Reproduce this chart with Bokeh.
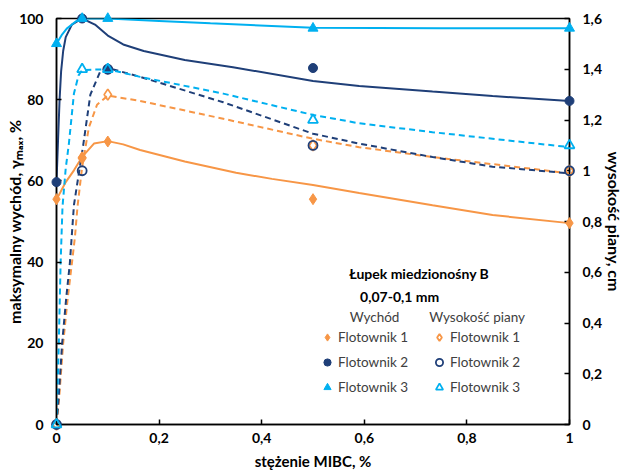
from bokeh.plotting import figure
from bokeh.models import (Range1d, LinearAxis, FixedTicker, CustomJSTickFormatter,
                          Label, Legend, LegendItem)
from bokeh.embed import file_html
from bokeh.resources import INLINE

# ---------------- data ----------------
conc = [0, 0.05, 0.1, 0.5, 1]
wych_f1 = [55.5, 65.8, 69.7, 55.5, 49.6]
wych_f2 = [59.7, 100, 87.5, 87.8, 79.7]
wych_f3 = [93.8, 100, 100, 97.6, 97.6]
piana_f1 = [0, 1.05, 1.3, 1.1, 1.0]
piana_f2 = [0, 1.0, 1.4, 1.1, 1.0]
piana_f3 = [0, 1.4, 1.4, 1.2, 1.1]

# trend curves
tr_w1_x = [0, 0.017, 0.034, 0.05, 0.073, 0.1, 0.13, 0.163, 0.25, 0.35, 0.42, 0.5, 0.59, 0.733, 0.85, 1]
tr_w1_y = [55.4, 59.5, 62.6, 65.9, 69.2, 69.8, 69.0, 67.6, 64.8, 62.0, 60.5, 59.0, 57.0, 54.0, 51.6, 49.6]
tr_w2_x = [0, 0.003, 0.006, 0.009, 0.013, 0.018, 0.03, 0.05, 0.075, 0.1, 0.13, 0.17, 0.25, 0.344, 0.5, 0.59, 0.733, 0.85, 1]
tr_w2_y = [59.7, 70, 80, 87, 92, 95.4, 98.5, 100, 98.5, 95.8, 93.6, 92.0, 89.8, 88.0, 84.6, 83.4, 82.0, 80.9, 79.7]
tr_w3_x = [0, 0.01, 0.02, 0.04, 0.05, 0.1, 0.2, 0.3, 0.5, 0.75, 1]
tr_w3_y = [93.8, 95.9, 97.5, 99.5, 100, 100, 99.4, 98.8, 97.7, 97.6, 97.6]
tr_p1_x = [0, 0.005, 0.013, 0.022, 0.03, 0.036, 0.041, 0.05, 0.063, 0.079, 0.1, 0.163, 0.325, 0.5, 0.59, 0.733, 1]
tr_p1_y = [0, 0.10, 0.32, 0.50, 0.635, 0.74, 0.86, 1.015, 1.17, 1.26, 1.296, 1.275, 1.205, 1.126, 1.093, 1.054, 0.99]
tr_p2_x = [0, 0.004, 0.011, 0.019, 0.026, 0.034, 0.052, 0.066, 0.085, 0.1, 0.163, 0.325, 0.5, 0.59, 0.733, 0.85, 1]
tr_p2_y = [0, 0.10, 0.32, 0.50, 0.635, 0.865, 1.10, 1.30, 1.39, 1.405, 1.37, 1.27, 1.146, 1.107, 1.054, 1.016, 0.99]
tr_p3_x = [0, 0.0013, 0.0045, 0.008, 0.0117, 0.018, 0.024, 0.034, 0.043, 0.05, 0.1, 0.163, 0.325, 0.5, 0.59, 0.733, 1]
tr_p3_y = [0, 0.096, 0.32, 0.635, 0.858, 1.01, 1.104, 1.304, 1.376, 1.397, 1.40, 1.37, 1.304, 1.22, 1.187, 1.152, 1.093]

x_ticks = [0, 0.2, 0.4, 0.6, 0.8, 1]
y_ticks = [0, 20, 40, 60, 80, 100]
y2_ticks = [0, 0.2, 0.4, 0.6, 0.8, 1, 1.2, 1.4, 1.6]

ORANGE = "#F79646"
NAVY = "#1F3F78"
SKY = "#00B0F0"
FONT = "Lato"

p = figure(width=627, height=474, output_backend="svg", toolbar_location=None,
           x_range=Range1d(0, 1), y_range=Range1d(0, 100),
           min_border_left=56, min_border_right=55, min_border_top=18, min_border_bottom=50)
p.extra_y_ranges = {"piana": Range1d(0, 1.6)}
p.xgrid.visible = False
p.ygrid.visible = False
p.outline_line_color = "black"
p.outline_line_width = 1.5
p.outline_line_alpha = 1
p.background_fill_color = "white"
p.border_fill_color = "white"

fmt = CustomJSTickFormatter(code="return tick.toString().replace('.', ',');")

def style_axis(ax, ticks):
    ax.ticker = FixedTicker(ticks=ticks)
    ax.formatter = fmt
    ax.axis_line_color = "black"
    ax.axis_line_width = 1.5
    ax.major_tick_line_color = "black"
    ax.major_tick_line_width = 1.5
    ax.major_tick_in = 5
    ax.major_tick_out = 0
    ax.minor_tick_line_color = None
    ax.major_label_text_font = FONT
    ax.major_label_text_font_style = "bold"
    ax.major_label_text_font_size = "14px"
    ax.major_label_text_color = "black"
    ax.axis_label_text_font = FONT
    ax.axis_label_text_font_style = "bold"
    ax.axis_label_text_font_size = "16px"
    ax.axis_label_text_color = "black"

xa = p.xaxis[0]
style_axis(xa, x_ticks)
xa.major_label_standoff = 8
xa.axis_label = "stężenie MIBC, %"
xa.axis_label_text_font_size = "15px"
xa.axis_label_standoff = 6

ya = p.yaxis[0]
style_axis(ya, y_ticks)
ya.major_label_standoff = 13
ya.axis_label = "maksymalny wychód, γₘₐₓ, %"
ya.axis_label_standoff = -8

ax2 = LinearAxis(y_range_name="piana")
style_axis(ax2, y2_ticks)
ax2.major_label_standoff = 13
ax2.axis_label = "wysokość piany, cm"
ax2.axis_label_standoff = 0
p.add_layout(ax2, "right")

# trend lines
p.line(tr_w1_x, tr_w1_y, line_color=ORANGE, line_width=2)
p.line(tr_w2_x, tr_w2_y, line_color=NAVY, line_width=2)
p.line(tr_w3_x, tr_w3_y, line_color=SKY, line_width=2)
p.line(tr_p1_x, tr_p1_y, line_color=ORANGE, line_width=2, line_dash="6 4", y_range_name="piana")
p.line(tr_p2_x, tr_p2_y, line_color=NAVY, line_width=2, line_dash="6 4", y_range_name="piana")
p.line(tr_p3_x, tr_p3_y, line_color=SKY, line_width=2, line_dash="6 4", y_range_name="piana")

# markers
rp1 = p.scatter(conc, piana_f1, marker="diamond", size=11, fill_color=None, line_color=ORANGE,
                line_width=1.8, y_range_name="piana", level="overlay")
rw1 = p.scatter(conc, wych_f1, marker="diamond", size=11, fill_color=ORANGE, line_color=ORANGE, level="overlay")
rw2 = p.scatter(conc, wych_f2, marker="circle", size=9, fill_color=NAVY, line_color=NAVY, level="overlay")
rw3 = p.scatter(conc, wych_f3, marker="triangle", size=10, fill_color=SKY, line_color=SKY, level="overlay")
rp2 = p.scatter(conc, piana_f2, marker="circle", size=9, fill_color=None, line_color=NAVY,
                line_width=1.8, y_range_name="piana", level="overlay")
rp3 = p.scatter(conc, piana_f3, marker="triangle", size=10, fill_color=None, line_color=SKY,
                line_width=1.8, y_range_name="piana", level="overlay")

def make_legend(items, loc):
    lg = Legend(items=items, location=loc)
    lg.border_line_color = None
    lg.background_fill_alpha = 0
    lg.padding = 0
    lg.margin = 0
    lg.spacing = 5
    lg.glyph_width = 18
    lg.glyph_height = 18
    lg.label_height = 20
    lg.label_standoff = 2
    lg.label_text_font = FONT
    lg.label_text_font_size = "13.5px"
    lg.label_text_color = "#404040"
    return lg

p.add_layout(make_legend([LegendItem(label="Flotownik 1", renderers=[rw1]),
                          LegendItem(label="Flotownik 2", renderers=[rw2]),
                          LegendItem(label="Flotownik 3", renderers=[rw3])], (262, 27)))
p.add_layout(make_legend([LegendItem(label="Flotownik 1", renderers=[rp1]),
                          LegendItem(label="Flotownik 2", renderers=[rp2]),
                          LegendItem(label="Flotownik 3", renderers=[rp3])], (374, 27)))

def lab(x, y, text, size="14px", style="bold", color="black"):
    p.add_layout(Label(x=x, y=y, text=text, text_font=FONT, text_font_size=size,
                       text_font_style=style, text_color=color, text_align="center",
                       text_baseline="middle"))

lab(0.707, 37.3, "Łupek miedzionośny B")
lab(0.669, 31.6, "0,07-0,1 mm")
lab(0.62, 26.4, "Wychód", size="13.5px", style="normal", color="#404040")
lab(0.82, 26.4, "Wysokość piany", size="13.5px", style="normal", color="#404040")

open("out.html", "w").write(file_html(p, INLINE))
